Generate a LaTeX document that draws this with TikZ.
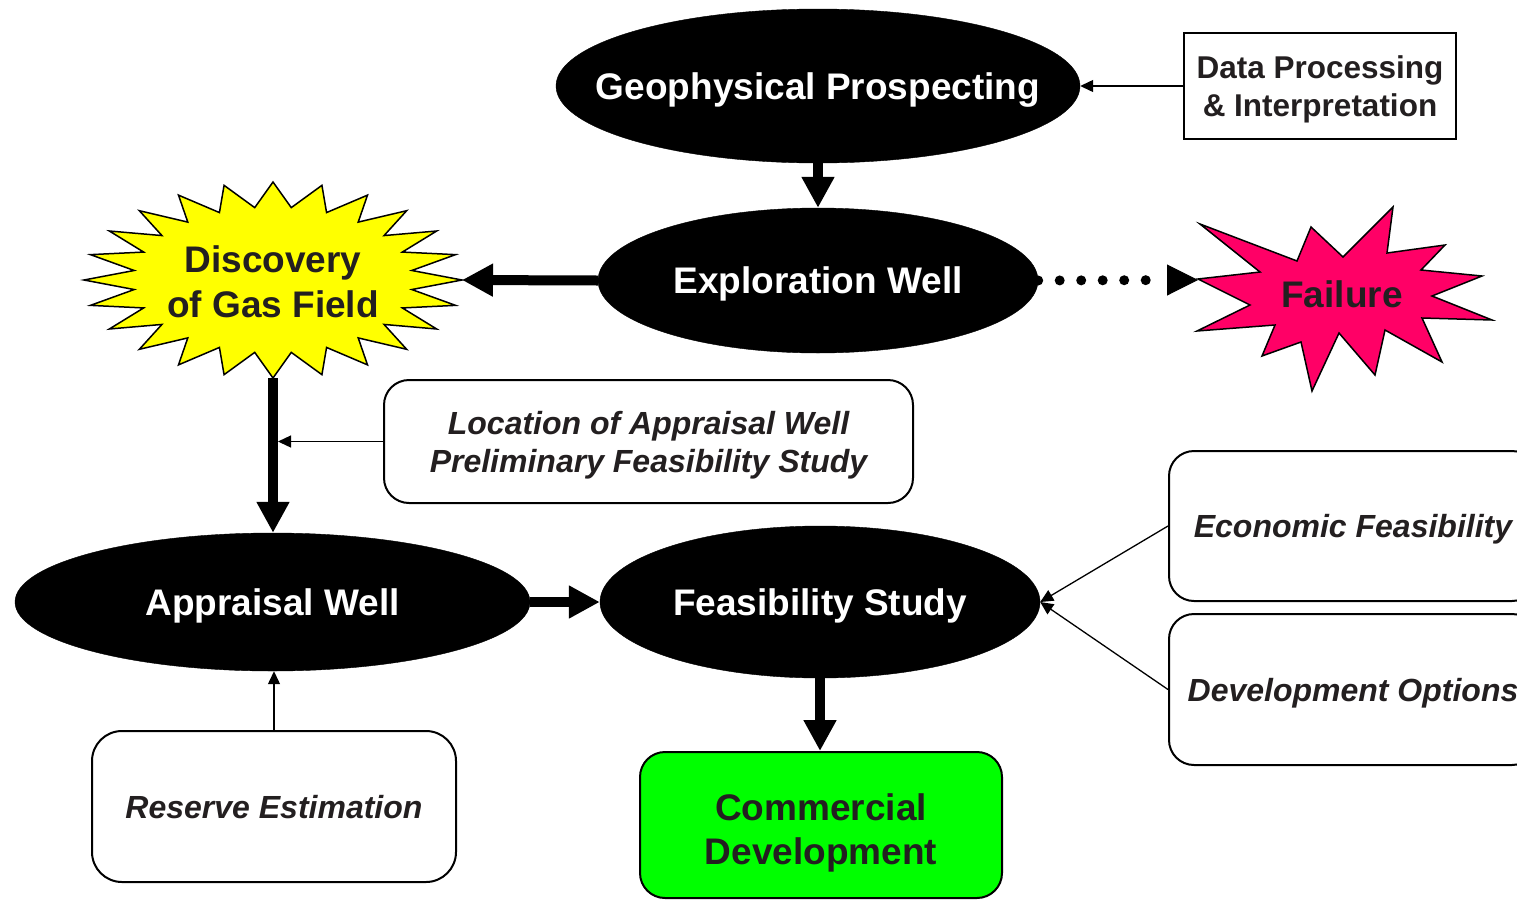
\documentclass[tikz,border=0pt]{standalone}
\usepackage{fontspec}
\setmainfont{Liberation Sans}
\usetikzlibrary{shapes.geometric,arrows.meta,calc}
\definecolor{txt}{HTML}{231F20}
\definecolor{burstyellow}{HTML}{FFFF00}
\definecolor{burstpink}{HTML}{FF0066}
\definecolor{commgreen}{HTML}{00FF00}
\begin{document}
\begin{tikzpicture}[x=1pt,y=-1pt,
  blob/.style={ellipse, fill=black, draw=black, inner sep=0pt, text=white, text depth=0pt,
    font=\bfseries\fontsize{37}{42}\selectfont},
  bigarrow/.style={line width=10pt, -{Triangle[length=31pt,width=31pt]}},
  thinarrow/.style={line width=1.3pt, -{Triangle[length=13pt,width=12pt]}},
  roundbox/.style={draw=black, line width=2pt, rounded corners=25pt, fill=white,
    align=center, text=txt, inner sep=0pt, text depth=0pt,
    font=\bfseries\itshape\fontsize{32}{38}\selectfont},
  burst/.style={draw=black, line width=1.5pt, line join=miter},
  bursttext/.style={text=txt, align=center, font=\bfseries\fontsize{37}{45}\selectfont},
]
\useasboundingbox (0,0) rectangle (1517,900);
\clip (0,0) rectangle (1517,900);
\fill[white] (0,0) rectangle (1517,900);

% ellipses
\node[blob, inner xsep=-40pt, minimum width=524pt, minimum height=154pt] (geo) at (818,86) {Geophysical Prospecting};
\node[blob, minimum width=440pt, minimum height=145pt] (expl) at (818,280.5) {Exploration Well};
\node[blob, minimum width=515pt, minimum height=138pt] (appr) at (272.5,602) {Appraisal Well};
\node[blob, minimum width=440pt, minimum height=152pt] (feas) at (820,602) {Feasibility Study};

% boxes
\node[draw=black, line width=2pt, minimum width=272pt, minimum height=106pt, align=center,
  inner sep=0pt, text depth=0pt, text=txt, font=\bfseries\fontsize{31.5}{38}\selectfont] (data) at (1320,86)
  {Data Processing\\\& Interpretation};
\node[roundbox, minimum width=529pt, minimum height=123pt] (loc) at (648.5,441.5)
  {Location of Appraisal Well\\Preliminary Feasibility Study};
\node[roundbox, minimum width=368pt, minimum height=150pt] (econ) at (1353,526) {Economic Feasibility};
\node[roundbox, minimum width=368pt, minimum height=151pt] (devo) at (1353,689.5) {Development Options};
\node[roundbox, minimum width=364pt, minimum height=151pt, rounded corners=30pt] (res) at (274,806.5) {Reserve Estimation};
\node[roundbox, fill=commgreen, minimum width=362pt, minimum height=146pt,
  font=\bfseries\fontsize{37}{44}\selectfont] (comm) at (821,825) {\rule{0pt}{35pt}Commercial\\Development};

% discovery starburst
\draw[burst, fill=burstyellow] (273,182)
  \foreach \k [evaluate=\k as \rx using {mod(\k,2)==0 ? 189 : 140},
               evaluate=\k as \ry using {mod(\k,2)==0 ? 98 : 73}] in {1,...,47}
  { -- ({273+\rx*cos(90-7.5*\k)},{280-\ry*sin(90-7.5*\k)}) } -- cycle;
\node[bursttext] (disc) at (273,282) {Discovery\\of Gas Field};
\coordinate (discR) at (462,280);
\coordinate (discB) at (273,378);

% failure starburst
\draw[burst, fill=burstpink] (1198,279) -- (1260,272) -- (1200,224) -- (1297,261) -- (1311,227)
  -- (1343,257) -- (1393,207) -- (1387,253) -- (1445,245) -- (1421,270) -- (1482,276)
  -- (1432,296) -- (1492,320) -- (1422,318) -- (1442,362) -- (1385,330) -- (1375,375)
  -- (1339,333) -- (1312,391) -- (1301,342) -- (1262,356) -- (1275,325) -- (1197,331)
  -- (1250,305) -- cycle;
\node[bursttext] (fail) at (1342,294) {Failure};
\coordinate (failtip) at (1198,280);

% thick arrows
\draw[bigarrow] (geo.south) -- (expl.north);
\draw[bigarrow] (expl.west) -- (discR);
\draw[bigarrow] (discB) -- (discB |- appr.north);
\draw[bigarrow] (appr.east) -- (feas.west);
\draw[bigarrow] (feas.south) -- (feas.south |- comm.north);

% dotted arrow to failure
\draw[line width=10pt, line cap=round, dash pattern=on 0pt off 21.5pt, shorten >=31pt]
  (expl.east) -- (failtip);
\draw[line width=1pt, -{Triangle[length=31pt,width=31pt]}] ($(failtip)+(-31,0)$) -- (failtip);

% thin arrows
\draw[thinarrow] (data.west) -- (geo.east);
\draw[thinarrow] (loc.west) -- ($(loc.west -| discB)+(5,0)$);
\draw[thinarrow] (econ.west) -- (feas.east);
\draw[thinarrow] (devo.west) -- (feas.east);
\draw[thinarrow] (res.north) -- (res.north |- appr.south);
\end{tikzpicture}
\end{document}
